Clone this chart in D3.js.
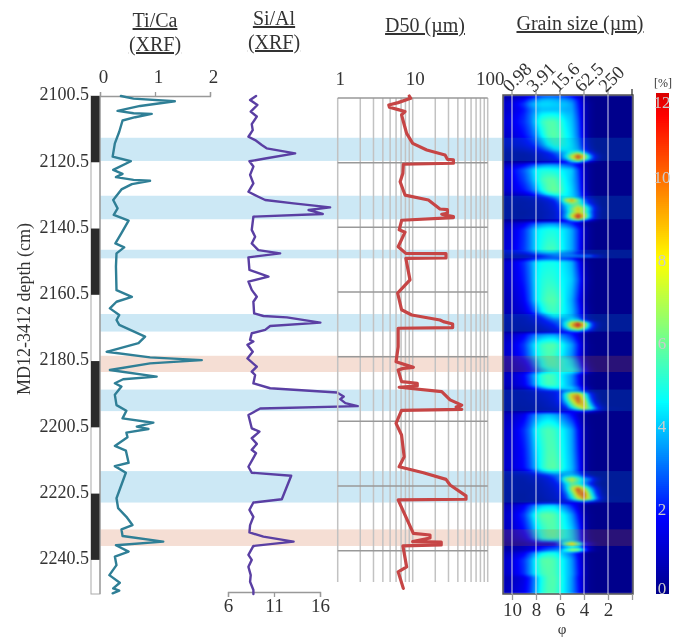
<!DOCTYPE html>
<html lang="en">
  <head>
    <meta charset="utf-8" />
    <title>MD12-3412 grain size</title>
    <script src="https://cdn.jsdelivr.net/npm/d3@7/dist/d3.min.js"></script>
    <style>
      body { margin: 0; background: #fff; }
      #container { position: relative; width: 673px; height: 637px; overflow: hidden; }
      #heatbox { position: absolute; left: 503px; top: 95px; width: 130px; height: 499px; overflow: hidden; }
      #heat { filter: blur(1px); display: block; }
      svg { position: absolute; left: 0; top: 0; }
      text { font-family: "Liberation Serif", serif; fill: #333; }
      .title { font-size: 20px; text-decoration: underline; text-anchor: middle; }
      .axis text { font-size: 19px; }
      .axis .domain, .axis line { stroke: #999; stroke-width: 1.3; }
      .line { fill: none; stroke-linejoin: round; stroke-linecap: round; }
    </style>
  </head>
  <body>
    <div id="container"><div id="heatbox"><canvas id="heat" width="130" height="499"></canvas></div></div>

    <script>
      // depth (cm), value
      const tiCaDepth = [2100.5,2101.3,2102.1,2103.5,2105,2105.7,2105.9,2106.9,2107.9,2111.3,2114.8,2118.8,2120.2,2122.8,2124,2125,2125.8,2126.1,2127.1,2128.7,2131.9,2134.4,2136.4,2138.1,2141.9,2145,2146.2,2148,2152,2159.1,2161.1,2162.6,2164.6,2166.6,2168.1,2169.6,2173.1,2175.1,2177.7,2179.4,2180.2,2181.2,2183.2,2185.2,2186,2187.2,2188.2,2190.7,2193.8,2195.5,2197.8,2199.1,2200.3,2201,2202.1,2203.5,2206.1,2207.5,2211.2,2212.2,2214.2,2221.9,2224.9,2227.5,2230,2231.3,2233.3,2235,2236.1,2238,2239.5,2242.1,2245.1,2247.4,2249.1,2249.8,2250.6];
      const tiCa = [.38,.61,1.36,.73,.32,.61,.94,.64,.41,.35,.27,.23,.56,.24,.41,.29,.61,.91,.58,.39,.24,.32,.25,.52,.39,.28,.44,.3,.29,.3,.58,.3,.18,.35,.3,.35,.82,.7,.12,.91,1.85,.91,.18,1.03,.42,.27,.39,.27,.3,.48,.41,.97,.67,.88,.48,.5,.27,.47,.52,.27,.47,.3,.33,.48,.59,.39,.41,1.15,.29,.52,.27,.3,.17,.36,.24,.35,.23];

      const siAlDepth = [2100.5,2101.7,2103.2,2105.2,2106.7,2109,2110.8,2112.8,2113.8,2115.3,2116.3,2117.8,2119.3,2120.2,2121.8,2124.3,2126.9,2129.4,2130.9,2131.9,2132.9,2134.1,2134.9,2136.1,2136.9,2140.9,2143,2145,2147,2148,2149.2,2153,2155,2156.5,2159,2161.1,2162.6,2166.1,2166.9,2167.3,2168.9,2169.9,2171.1,2172.1,2174.1,2174.6,2175.6,2177.7,2179.7,2182.2,2183.7,2184.7,2187.2,2188.7,2190,2191.2,2192,2193.2,2194.1,2194.8,2196.8,2200.8,2201.8,2203.8,2205.5,2207.3,2208.3,2212.4,2214.2,2215.1,2222.2,2223.2,2225.4,2227.5,2230,2232.2,2233.5,2235,2236.3,2239,2240.5,2242.6,2245.1,2247.1,2249.6,2250.8];
      const siAl = [9.05,8.4,9.2,8.47,9.13,8.58,8.69,8.22,8.95,9.67,10.2,13.3,10.2,8.33,8.76,8.4,8.76,8.22,9.3,10.04,13.13,17.1,14.76,16.3,8.76,8.58,8.95,8.58,9.3,11.67,8.22,8.33,10.4,8.22,8.58,9.13,8.76,8.84,9.85,12.4,16.04,10.58,10.04,8.58,8.4,8.76,8.11,8.69,8.11,9.13,8.58,8.95,8.76,10.58,17.85,18.58,18.2,18.76,20.1,9.5,8.22,8.58,9.42,8.58,9.13,8.58,9.05,8.22,8.58,12.87,11.85,8.76,8.33,8.76,8.4,8.33,9.85,13.13,8.76,8.22,8.58,8.22,8.47,8.4,8.76,8.76];

      const d50Depth = [2100.5,2101.2,2102.5,2103.2,2103.9,2104.6,2105.2,2106.2,2108.2,2111.8,2114.8,2116.8,2118.3,2119.6,2119.8,2120.8,2121.1,2123.8,2126.4,2130.4,2131.9,2134.6,2134.8,2135.9,2136.2,2136.9,2137.2,2138,2138.2,2140.9,2141.6,2146,2148,2148.1,2149.4,2149.5,2156,2160,2165,2166.6,2168.1,2168.6,2169.3,2169.6,2170.4,2170.6,2176.2,2180.7,2182.4,2182.7,2183.2,2186.7,2187.2,2188,2188.4,2189.7,2192.2,2193.8,2194.4,2195.1,2195.4,2197.8,2199.3,2202.8,2209.4,2212.4,2214.2,2216.2,2217.9,2221.2,2221.4,2222.2,2222.4,2232.5,2233,2233.9,2235,2235.1,2236,2236.3,2242.6,2244.1,2249.1];
      const d50 = [9,9.4,6.4,4.8,4.9,6.4,7.9,7.1,7.5,8.3,10,15.4,27,29,34.9,34.9,7.5,7.4,6.8,7.9,16.2,23.1,29,29,24.4,34.9,34.9,7.1,7.1,6.6,7.9,6.4,8.1,27.8,27.8,8.1,9.2,6.3,7.1,9.7,23.1,25.6,34.1,34.1,34.1,6.4,6.4,6,10.2,7.5,6.4,7.1,11.5,11.5,6.6,24.4,31.5,45,38,45,7.1,6.4,6,7.1,7.7,6.6,13.9,27.8,31.5,51.4,51.4,51.4,6.4,10.2,17,17,10,24,24,7.4,8.3,6.4,7.5];

      // depths of the horizontal lines in the D50 panel
      const gridDepths = [2100.5,2120.5,2140.5,2160.5,2180.5,2200.5,2220.5,2240.5];
      const coreBlack = [[2100.5,2120.5],[2140.5,2160.5],[2180.5,2200.5],[2220.5,2240.5]];
      const blueBands = [[2113.1,2120.1],[2130.6,2137.7],[2146.9,2149.5],[2166.3,2171.6],[2189.1,2195.6],[2213.7,2223.2]];
      const pinkBands = [[2178.9,2183.8],[2231.3,2236.3]];

      const phiTicks = [10,8,6,4,2];
      const sizeLabels = ["0.98","3.91","15.6","62.5","250"];
      const legendTicks = [0,2,4,6,8,10,12];

      // grain size matrix, % per phi class, one row per depth
      const phiCols = [11,10,9,8.5,8,7.5,7,6.5,6,5.5,5,4.5,4,3.5,3,2.5,2,0];
      const grainDepths = [2100.5,2101.7,2102.9,2104.7,2106.5,2108.3,2112.3,2115.3,2116.8,2117.7,2118.6,2119.5,2120.4,2121,2122.8,2125.8,2128.9,2130.1,2131,2131.9,2132.8,2133.7,2134.6,2135.5,2136.4,2137.3,2138.2,2138.8,2140.9,2147,2148.2,2148.8,2149.4,2150.6,2156,2162.1,2165.7,2166.9,2168.1,2169,2169.9,2170.8,2171.7,2172.3,2175.6,2179,2180.2,2182,2183.5,2184.7,2187.7,2188.9,2189.5,2190.4,2191.6,2192.8,2194,2195,2195.5,2196.5,2201.3,2207.4,2212.8,2214,2214.9,2216.1,2217.6,2219.1,2220.6,2222.1,2223,2223.9,2226.9,2231.5,2233.9,2234.8,2235.7,2236.6,2237.5,2238.4,2240.5,2244.7,2245.9,2250.8];
      const grainRows = [
        [.3,.5,.9,1.4,2,2.6,2.8,2.8,2.6,2.3,1.8,1,.3],
        [.6,1,1.8,2.6,3.3,3.8,3.9,3.8,3.6,3.4,3,2,.6,.1],
        [.8,1.3,2.4,3.4,4,4.2,4.2,4.1,4,3.9,3.5,2.2,.8,.2],
        [.8,1.2,2,2.8,3.6,3.9,3.9,3.9,3.9,3.7,3.6,2.4,.9,.2],
        [.9,1.4,2.2,3,4,4.7,4.9,4.9,4.6,4.1,3.8,2.6,.9,.2],
        [1,1.5,2.3,3,4.2,5.3,5.7,5.7,5.2,4.4,3.9,2.8,1,.2],
        [.8,1.2,1.9,2.5,3.4,4.6,5.6,5.8,5.5,4.7,4.1,3,1.2,.2],
        [.6,.9,1.3,1.7,2.3,3.3,4.5,5.2,5.2,4.8,4.3,3.4,1.6,.4],
        [.3,.5,.8,1,1.4,2.1,3,4,4.4,4.5,4.3,3.7,2.2,.7,.1],
        [.2,.3,.4,.6,.9,1.2,1.7,2.5,3.3,4,5.5,7,4.5,2,.5],
        [.1,.3,.3,.4,.7,1,1.4,1.9,2.8,4.6,8,11,8.5,3.8,1.2,.2],
        [.1,.3,.3,.4,.6,.9,1.2,1.6,2.4,3.8,7,10,7.5,3.5,1,.1],
        [.1,.2,.2,.3,.3,.5,.6,.8,1.1,1.6,3.2,4,2.2,.8,.2],
        [.6,.9,1.5,2,2.6,3,3.2,3.2,3,2.6,2.2,1.4,.5,.1],
        [1,1.7,2.8,3.6,4.6,4.9,4.9,4.8,4.6,4.3,4,2.6,.9,.2],
        [.9,1.5,2.5,3.3,4.4,5.4,5.8,5.8,5.2,4.5,3.9,2.8,1,.2],
        [.8,1.3,2,2.6,3.6,4.8,5.7,6,5.6,4.7,4.1,3,1.2,.2],
        [.5,.9,1.3,1.7,2.5,3.6,4.7,5.2,5.2,4.6,4.1,3.2,1.5,.4],
        [.2,.4,.6,.8,1.1,1.6,2.4,3.4,4.2,4.6,4.2,3.2,1.6,.5],
        [.1,.3,.4,.5,.6,.9,1.3,2,3.6,7.6,10,6.4,3.2,1.3,.4],
        [.1,.3,.3,.4,.5,.7,1,1.5,2.8,5.2,6.8,5.8,3.6,1.6,.5],
        [.1,.2,.3,.4,.5,.6,.9,1.3,2.4,4,5.5,7,5.5,3,1],
        [.1,.2,.3,.3,.4,.6,.8,1.2,2.2,3.8,6.5,9,7,3.8,1.2,.2],
        [.1,.2,.2,.3,.4,.5,.7,1,1.9,3.4,6,8,6.5,3.4,1,.1],
        [.1,.2,.2,.3,.4,.5,.7,1,1.8,3.8,8,11,8.5,3.8,1,.1],
        [.1,.2,.3,.4,.4,.5,.8,1,1.9,3.8,7.5,11.4,8,3.6,1,.1],
        [.1,.2,.2,.3,.3,.4,.5,.7,1,1.5,2.6,3.2,1.8,.7,.2],
        [.5,.9,1.4,2,2.6,3,3.2,3.2,3,2.6,2,1.2,.4,.1],
        [.8,1.3,2.3,3.2,4.3,4.7,4.9,4.9,4.6,4.2,3.6,2.4,.9,.2],
        [.9,1.4,2.4,3.2,4.3,5,5.5,5.5,4.9,4.2,3.6,2.4,.8,.2],
        [.5,.8,1.2,1.7,2.6,3,3.2,3.2,3.1,2.9,2.6,1.7,.7,.2],
        [.2,.3,.4,.6,1,1.7,2.4,3,3.4,3.6,3.6,3.6,3.8,3.6,1.8,.6,.1],
        [.3,.5,.8,1.2,1.8,2.2,2.4,2.4,2.2,2,1.7,1,.3],
        [.8,1.3,2.3,3.2,4.3,4.7,4.8,4.8,4.5,4.2,3.7,2.2,.7,.1],
        [.7,1.2,2.1,3,4.4,5,5.2,5.1,4.7,4.4,4,2.8,1,.2],
        [.5,.9,1.7,2.7,4.3,5.2,5.7,5.7,5.2,4.3,3.6,2.2,.7,.1],
        [.5,.8,1.3,1.9,3,4.4,5.2,5.4,5,4.4,3.8,2.6,1,.2],
        [.3,.5,.7,1,1.5,2.5,3.7,4.6,4.5,4.2,3.7,2.5,1,.2],
        [.2,.4,.5,.8,1.1,1.5,2.3,3,3.3,3.8,4.6,4,1.6,.4],
        [.2,.3,.5,.6,.9,1.3,1.7,2.3,2.9,5,8.5,11,8,3.2,.8,.1],
        [.1,.3,.4,.5,.6,.9,1.3,1.7,2.6,5,9,11.5,8.5,3.4,.9,.1],
        [.1,.3,.3,.4,.5,.7,1,1.4,2,3.6,6.4,8,5.5,2.4,.5],
        [.1,.2,.2,.3,.3,.4,.6,.8,1.1,1.5,2,2.2,1.2,.4,.1],
        [.6,.9,1.6,2.3,3,3.2,3.4,3.4,3.1,2.6,2,1.2,.4],
        [.8,1.3,2.4,3.5,4.6,5.4,5.7,5.7,5,4.2,3.5,2.2,.7,.1],
        [.8,1.2,2.2,3.2,4.3,5.2,5.6,5.4,4.7,4,3.3,2,.6,.1],
        [.6,.9,1.7,2.5,3.7,4.7,5.4,5.4,5,4.6,4,2.6,.9,.1],
        [.5,.8,1.3,2,3.2,4.5,5.2,5.3,5,4.6,4.3,3.2,1.4,.3],
        [.5,.7,1.1,1.7,2.6,3.5,4.2,4.6,4.8,4.8,4.7,3.8,2.2,.6,.1],
        [.7,1,1.8,2.8,4,5.2,5.6,5.4,4.6,4,3.4,2,.6,.1],
        [.6,.9,1.6,2.5,3.8,5,5.5,5.4,4.8,4.1,3.4,2.2,.7,.1],
        [.3,.6,.9,1.3,2,3,3.8,4.2,4.2,4.2,4.2,3.2,1.6,.4],
        [.2,.3,.5,.7,1,1.3,1.6,1.8,2.2,2.8,3,2.6,1.4,.4],
        [.2,.3,.4,.5,.7,.9,1.1,1.4,2.2,5.2,8.5,9,6,2.2,.5],
        [.2,.3,.4,.5,.6,.8,1,1.3,2.2,5,8.6,10.5,7,2.8,.7],
        [.1,.3,.3,.4,.5,.6,.8,1.1,1.9,4,7,10,8.5,3.6,1,.1],
        [.1,.2,.3,.3,.4,.5,.7,.9,1.4,2.6,5.5,8,8.8,4.8,2,.5],
        [.1,.2,.2,.3,.3,.4,.5,.7,1,1.6,3.4,5.5,8,6,3,1,.2],
        [.1,.2,.2,.2,.3,.3,.4,.5,.7,1,1.5,2,2.2,1.6,.8,.3],
        [.6,.9,1.5,2.4,3.2,3.6,3.8,3.6,3.2,2.5,1.8,1,.3],
        [.7,1.2,2.3,3.2,4.6,5.3,5.6,5.4,4.8,4.2,3.5,2,.6,.1],
        [.8,1.2,2,2.9,4.2,5,5.6,5.6,5,4.3,3.6,2.2,.7,.1],
        [.8,1.2,1.9,2.7,3.9,5,5.7,5.8,5.3,4.4,3.8,2.5,.8,.1],
        [.4,.7,1.1,1.6,2.6,3.6,4.3,4.6,4.4,4,3.6,2.4,.8,.1],
        [.2,.4,.6,.8,1.1,1.6,2.2,2.8,3.2,3.6,3.8,3.2,1.6,.4],
        [.2,.3,.4,.6,.7,.9,1.3,2,3.2,6.4,8,6,4,3,1,.2],
        [.2,.3,.3,.4,.5,.7,1,1.4,2.2,4.2,6,5,3.6,1.8,.5],
        [.1,.3,.3,.3,.4,.6,.8,1.1,1.8,3.8,7.5,10.8,8,4.4,1.8,.3],
        [.1,.2,.2,.3,.4,.5,.7,.9,1.4,2.8,5.6,9.5,10.5,6,2.5,.5],
        [.1,.2,.2,.3,.3,.4,.6,.8,1.2,2.2,4.2,7.2,9.6,7,3.5,1,.1],
        [.1,.1,.2,.2,.2,.3,.4,.5,.6,.9,1.3,1.6,1.8,1.2,.6,.2],
        [.6,.9,1.6,2.4,3.3,3.8,4,4,3.5,2.8,2,1.2,.3],
        [.7,1.2,2.4,3.6,5,5.8,5.9,5.7,5,4.3,3.4,2,.6,.1],
        [.6,1,1.9,2.8,4.2,5.1,5.6,5.7,5.2,4.6,4,2.8,1,.1],
        [.5,.8,1.4,2.2,3.6,4.8,5.4,5.5,5.1,4.6,4.1,3,1.1,.2],
        [.4,.7,1,1.5,2.4,3.2,3.4,3.4,3.6,3.9,4.1,3,1.2,.3],
        [.2,.4,.6,.8,.8,.6,.5,1,3,6.5,9.3,6.4,3,1.2,.3],
        [.3,.5,.8,1.1,1.5,1.9,2.2,2.4,2.6,3.1,3.6,3,1.6,.5],
        [.3,.5,.8,1.1,1.6,2.2,2.7,3,3.4,5.2,7.4,7.2,3.8,.9,.2],
        [.6,.9,1.6,2.5,3.6,4.4,4.8,4.8,4.2,3.5,2.8,1.7,.5],
        [.8,1.3,2.4,3.4,4.7,5.7,5.8,5.6,4.9,4.2,3.4,2,.6,.1],
        [.7,1.2,2.3,3.4,4.6,5.4,5.7,5.6,5,4.2,3.5,2.2,.8,.1],
        [.5,.8,1.4,2.2,3.6,4.9,5.6,5.7,5.1,4.2,3.4,2,.7,.1],
        [.6,1,1.6,2.4,3.8,5,5.6,5.6,5,4.2,3.4,2.2,.8,.1]
      ];

      const width = 673;
      const height = 637;

      const y = d3.scaleLinear().domain([2100.5, 2250.8]).range([96, 594]);
      const xTiCa = d3.scaleLinear().domain([0, 2]).range([100, 210]);
      const xSiAl = d3.scaleLinear().domain([6, 16]).range([228, 320]);
      const xD50 = d3.scaleLog().domain([1, 100]).range([337.7, 487.7]);
      const yGrid = d3.scaleLinear().domain([2100.5, 2240.5]).range([98, 550.7]);
      const xPhi = d3.scaleLinear().domain([10, 0]).range([512, 632]);

      const color = d3.scaleLinear()
        .domain([0, 1.8, 4.6, 8, 11.5, 12])
        .range(["#00008c", "#0000ff", "#00ffff", "#ffff00", "#ff0000", "#dc0000"])
        .clamp(true);

      // heat map, sampled per pixel between the rows and columns of the matrix
      const colIndex = d3.scaleLinear().domain(phiCols).range(phiCols.map((d, i) => i)).clamp(true);
      const rowIndex = d3.scaleLinear().domain(grainDepths).range(grainDepths.map((d, i) => i)).clamp(true);
      const ctx = document.getElementById("heat").getContext("2d");
      const cell = (r, c) => grainRows[r][c] || 0;
      for (let py = 0; py < 499; py++) {
        const rf = rowIndex(y.invert(95 + py + 0.5));
        const r0 = Math.floor(rf);
        const r1 = Math.min(r0 + 1, grainRows.length - 1);
        for (let px = 0; px < 130; px++) {
          const cf = colIndex(xPhi.invert(503 + px + 0.5));
          const c0 = Math.floor(cf);
          const c1 = Math.min(c0 + 1, phiCols.length - 1);
          const top = cell(r0, c0) + (cell(r0, c1) - cell(r0, c0)) * (cf - c0);
          const bot = cell(r1, c0) + (cell(r1, c1) - cell(r1, c0)) * (cf - c0);
          ctx.fillStyle = color(top + (bot - top) * (rf - r0));
          ctx.fillRect(px, py, 1, 1);
        }
      }

      const svg = d3.select("#container").append("svg").attr("width", width).attr("height", height);

      // event bands, they also tint the heat map
      svg.append("g").selectAll("rect").data(blueBands).enter().append("rect")
        .attr("x", 100).attr("width", 533)
        .attr("y", (d) => y(d[0])).attr("height", (d) => y(d[1]) - y(d[0]))
        .attr("fill", "rgb(0,140,205)").attr("fill-opacity", 0.2);
      svg.append("g").selectAll("rect").data(pinkBands).enter().append("rect")
        .attr("x", 100).attr("width", 533)
        .attr("y", (d) => y(d[0])).attr("height", (d) => y(d[1]) - y(d[0]))
        .attr("fill", "rgb(205,90,40)").attr("fill-opacity", 0.2);

      // core bar
      svg.append("rect").attr("x", 91).attr("y", 96).attr("width", 9).attr("height", 498)
        .attr("fill", "#fff").attr("stroke", "#aaa").attr("stroke-width", 1);
      svg.append("g").selectAll("rect").data(coreBlack).enter().append("rect")
        .attr("x", 91).attr("width", 9)
        .attr("y", (d) => y(d[0])).attr("height", (d) => y(d[1]) - y(d[0]))
        .attr("fill", "#2a2a2a");

      // depth axis
      const depthAxis = d3.axisLeft(y).tickValues(gridDepths).tickSize(0).tickPadding(0).tickFormat(d3.format(".1f"));
      const gDepth = svg.append("g").attr("class", "axis").attr("transform", "translate(89,-2)").call(depthAxis);
      gDepth.select(".domain").remove();
      gDepth.selectAll("text").style("font-size", "18px");
      svg.append("text").attr("transform", "translate(30,309) rotate(-90)")
        .attr("text-anchor", "middle").style("font-size", "18px").text("MD12-3412 depth (cm)");

      // Ti/Ca panel
      const gTi = svg.append("g").attr("class", "axis").attr("transform", "translate(0,96)")
        .call(d3.axisTop(xTiCa).tickValues([0, 1, 2]).tickSize(4).tickSizeOuter(4).tickPadding(9).tickFormat(d3.format("d")));
      gTi.selectAll("text").attr("dx", 3);
      svg.append("line").attr("x1", 100).attr("x2", 100).attr("y1", 96).attr("y2", 594).attr("stroke", "#999").attr("stroke-width", 1.2);
      const lineTi = d3.line().x((d) => xTiCa(d)).y((d, i) => y(tiCaDepth[i]));
      svg.append("path").attr("class", "line").attr("d", lineTi(tiCa)).attr("stroke", "#2f7f96").attr("stroke-width", 2.4);

      // Si/Al panel
      svg.append("g").attr("class", "axis").attr("transform", "translate(0,592)")
        .call(d3.axisBottom(xSiAl).tickValues([6, 11, 16]).tickSize(5).tickPadding(2).tickFormat(d3.format("d")));
      const lineSi = d3.line().x((d) => xSiAl(d)).y((d, i) => y(siAlDepth[i]));
      svg.append("path").attr("class", "line").attr("d", lineSi(siAl)).attr("stroke", "#5a3fa3").attr("stroke-width", 2.4);

      // D50 panel
      const d50Ticks = d3.range(0, 2).flatMap((p) => d3.range(1, 10).map((m) => m * 10 ** p)).concat(100);
      svg.append("g").selectAll("line").data(d50Ticks).enter().append("line")
        .attr("x1", (d) => xD50(d)).attr("x2", (d) => xD50(d)).attr("y1", 98).attr("y2", 582)
        .attr("stroke", "#c2c2c2").attr("stroke-width", 1.5);
      svg.append("g").selectAll("line").data(gridDepths).enter().append("line")
        .attr("x1", xD50(1)).attr("x2", xD50(100)).attr("y1", (d) => yGrid(d)).attr("y2", (d) => yGrid(d))
        .attr("stroke", "#999").attr("stroke-width", 1.5);
      const gD50 = svg.append("g").attr("class", "axis").attr("transform", "translate(0,98)")
        .call(d3.axisTop(xD50).tickValues([1, 10, 100]).tickSize(0).tickPadding(13).tickFormat(d3.format("d")));
      gD50.select(".domain").remove();
      gD50.selectAll("text").attr("dx", 2);
      const lineD50 = d3.line().x((d) => xD50(d)).y((d, i) => y(d50Depth[i]));
      svg.append("path").attr("class", "line").attr("d", lineD50(d50)).attr("stroke", "#c64545").attr("stroke-width", 3.2);

      // heat map frame, phi lines and axes
      svg.append("rect").attr("x", 503).attr("y", 95).attr("width", 130).attr("height", 499)
        .attr("fill", "none").attr("stroke", "#555").attr("stroke-width", 1.5);
      svg.append("g").selectAll("line").data(phiTicks).enter().append("line")
        .attr("x1", (d) => xPhi(d)).attr("x2", (d) => xPhi(d)).attr("y1", 95).attr("y2", 594)
        .attr("stroke", "#dde").attr("stroke-opacity", 0.75).attr("stroke-width", 1.3);
      const gPhi = svg.append("g").attr("class", "axis").attr("transform", "translate(0,594)")
        .call(d3.axisBottom(xPhi).tickValues(phiTicks.concat(0)).tickSize(6).tickSizeOuter(0).tickPadding(3).tickFormat((d) => d === 0 ? "" : d));
      gPhi.select(".domain").remove();
      gPhi.selectAll("line").attr("stroke", "#666");
      svg.append("g").selectAll("line").data(phiTicks.concat(0)).enter().append("line")
        .attr("x1", (d) => xPhi(d)).attr("x2", (d) => xPhi(d)).attr("y1", 89).attr("y2", 95)
        .attr("stroke", (d) => d === 0 ? "#333" : "#999").attr("stroke-width", 1.3);
      svg.append("g").selectAll("text").data(sizeLabels).enter().append("text")
        .attr("transform", (d, i) => `translate(${xPhi(phiTicks[i]) - 2},93) rotate(-45)`)
        .style("font-size", "18.5px").text((d) => d);
      svg.append("text").attr("x", 562).attr("y", 634).attr("text-anchor", "middle").style("font-size", "15px").text("φ");

      // colour bar
      const yLegend = d3.scaleLinear().domain([0, 12]).range([593, 95]);
      const legendSteps = d3.range(0, 12.01, 0.05);
      svg.append("g").selectAll("rect").data(legendSteps).enter().append("rect")
        .attr("x", 656).attr("width", 13)
        .attr("y", (d) => yLegend(d) - 2).attr("height", 3)
        .attr("fill", (d) => color(d));
      svg.append("g").selectAll("text").data(legendTicks).enter().append("text")
        .attr("x", 662).attr("y", (d) => yLegend(d) + (d === 12 ? 13 : d === 0 ? 1 : 5)).attr("text-anchor", "middle")
        .style("font-size", "17px").style("fill", "#ccc").text((d) => d);
      svg.append("text").attr("x", 663).attr("y", 87).attr("text-anchor", "middle").style("font-size", "12px").text("[%]");

      // titles
      svg.append("text").attr("class", "title").attr("x", 155).attr("y", 27).text("Ti/Ca");
      svg.append("text").attr("class", "title").attr("x", 155).attr("y", 51).text("(XRF)");
      svg.append("text").attr("class", "title").attr("x", 274).attr("y", 25).text("Si/Al");
      svg.append("text").attr("class", "title").attr("x", 274).attr("y", 49).text("(XRF)");
      svg.append("text").attr("class", "title").attr("x", 425).attr("y", 32).text("D50 (µm)");
      svg.append("text").attr("class", "title").attr("x", 580).attr("y", 30).text("Grain size (µm)");
    </script>
  </body>
</html>
